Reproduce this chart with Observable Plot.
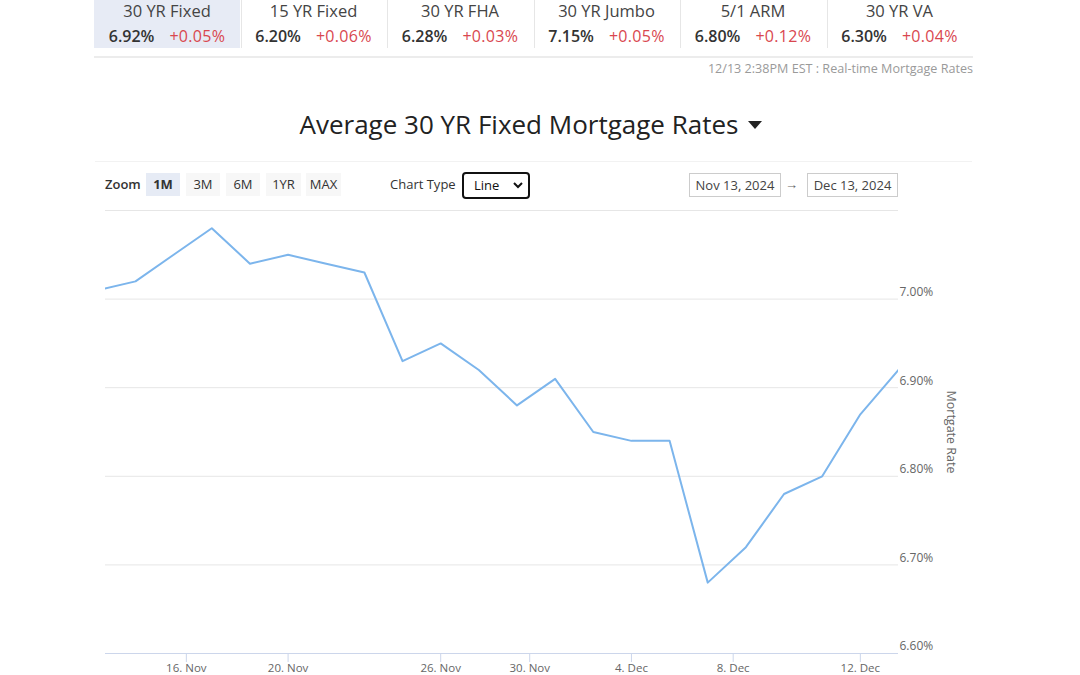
<!DOCTYPE html>
<html>
<head>
<meta charset="utf-8">
<script src="https://cdn.jsdelivr.net/npm/d3@7"></script>
<script src="https://cdn.jsdelivr.net/npm/@observablehq/plot@0.6"></script>
<style>
  html, body { margin: 0; padding: 0; background: #fff; }
  body { width: 1080px; height: 675px; position: relative; overflow: hidden; font-family: "Open Sans", "Noto Sans", sans-serif; color: #333; }
  .abs { position: absolute; }
  .tab { position: absolute; top: 0; height: 48px; width: 146px; }
  .tab.sel { background: #e7ebf5; }
  .tabname { position: absolute; top: 0; left: 0; right: 0; text-align: center; font-size: 16.5px; color: #444; line-height: 22px; white-space: nowrap; }
  .tabvals { position: absolute; top: 25px; left: 0; right: 0; text-align: center; font-size: 16px; line-height: 22px; white-space: nowrap; }
  .tabvals .v { font-weight: 600; color: #333; margin-right: 15px; }
  .tabvals .c { color: #d9474f; letter-spacing: 0.3px; }
  .divider { position: absolute; top: 0; width: 1px; height: 48px; background: #e6e6e6; }
  .btn { position: absolute; top: 173px; height: 23px; line-height: 23px; font-size: 13px; text-align: center; background: #f7f7f7; color: #333; }
  .btn.sel { background: #e6ebf5; font-weight: 700; }
  .datebox { position: absolute; top: 173px; height: 22px; line-height: 22px; border: 1px solid #ccc; font-size: 13px; color: #444; text-align: center; }
</style>
</head>
<body>
<div id="tabs"></div>
<div class="abs" style="left:94px; top:56px; width:879px; height:2px; background:#ececec;"></div>
<div class="abs" style="right:107px; top:60px; font-size:12.6px; color:#9a9a9a; line-height:18px;">12/13 2:38PM EST : Real-time Mortgage Rates</div>

<div class="abs" style="left:0; width:1062px; top:105px; text-align:center; font-size:26px; line-height:38px; color:#222; font-weight:500;">Average 30 YR Fixed Mortgage Rates<span style="display:inline-block; width:0; height:0; border-left:7px solid transparent; border-right:7px solid transparent; border-top:8px solid #222; margin-left:10px; vertical-align:5px;"></span></div>

<div class="abs" style="left:95px; top:161px; width:877px; height:1px; background:#f2f2f2;"></div>

<div class="abs" style="left:105px; top:173px; line-height:23px; font-size:13px; font-weight:600; color:#333;">Zoom</div>
<div id="buttons"></div>
<div class="abs" style="left:390px; top:173px; line-height:23px; font-size:13px; color:#333;">Chart Type</div>
<div class="abs" style="left:462px; top:172px; width:64px; height:23px; border:2px solid #111; border-radius:4px; font-size:13px; line-height:23px; color:#111;">
  <span style="position:absolute; left:10px;">Line</span>
  <svg style="position:absolute; right:5px; top:8px;" width="10" height="7" viewBox="0 0 10 7"><path d="M1 1 L5 5 L9 1" fill="none" stroke="#111" stroke-width="2"/></svg>
</div>
<div class="datebox" style="left:689px; width:90px;">Nov 13, 2024</div>
<div class="abs" style="left:785px; top:173px; line-height:22px; font-size:13px; color:#666;">→</div>
<div class="datebox" style="left:807px; width:89px;">Dec 13, 2024</div>

<div id="chart" class="abs" style="left:0; top:200px;"></div>

<script>
// ---- Header data ----
const products = ["30 YR Fixed", "15 YR Fixed", "30 YR FHA", "30 YR Jumbo", "5/1 ARM", "30 YR VA"];
const productRates = ["6.92%", "6.20%", "6.28%", "7.15%", "6.80%", "6.30%"];
const productChanges = ["+0.05%", "+0.06%", "+0.03%", "+0.05%", "+0.12%", "+0.04%"];
const zoomButtons = ["1M", "3M", "6M", "1YR", "MAX"];

// ---- Chart data (business days, ordinal axis) ----
const dates = ["2024-11-13", "2024-11-14", "2024-11-15", "2024-11-18", "2024-11-19", "2024-11-20",
  "2024-11-21", "2024-11-22", "2024-11-25", "2024-11-26", "2024-11-27", "2024-11-29",
  "2024-12-02", "2024-12-03", "2024-12-04", "2024-12-05", "2024-12-06", "2024-12-09",
  "2024-12-10", "2024-12-11", "2024-12-12", "2024-12-13"];
const rates = [7.01, 7.02, 7.05, 7.08, 7.04, 7.05, 7.04, 7.03, 6.93, 6.95, 6.92, 6.88,
  6.91, 6.85, 6.84, 6.84, 6.68, 6.72, 6.78, 6.80, 6.87, 6.92];
const tickDates = ["2024-11-16", "2024-11-20", "2024-11-26", "2024-11-30", "2024-12-04", "2024-12-08", "2024-12-12"];
const yTicks = [6.6, 6.7, 6.8, 6.9, 7.0];
const yGrid = [6.7, 6.8, 6.9, 7.0, 7.1];

// header build
const tabsEl = document.getElementById("tabs");
products.forEach((p, i) => {
  const left = 94 + i * 146.5;
  const t = document.createElement("div");
  t.className = "tab" + (i === 0 ? " sel" : "");
  t.style.left = left + "px";
  t.innerHTML = `<div class="tabname">${p}</div><div class="tabvals"><span class="v">${productRates[i]}</span><span class="c">${productChanges[i]}</span></div>`;
  tabsEl.appendChild(t);
  if (i > 0) {
    const d = document.createElement("div");
    d.className = "divider";
    d.style.left = Math.round(left) + "px";
    tabsEl.appendChild(d);
  }
});
const btnEl = document.getElementById("buttons");
zoomButtons.forEach((b, i) => {
  const d = document.createElement("div");
  d.className = "btn" + (i === 0 ? " sel" : "");
  d.style.left = (146 + i * 40) + "px";
  d.style.width = (b.length > 2 ? 35 : 34) + "px";
  d.textContent = b;
  btnEl.appendChild(d);
});

// chart
const parse = d3.utcParse("%Y-%m-%d");
const dts = dates.map(parse);
const data = dts.map((d, i) => ({ i, date: d, rate: rates[i] }));
const fmt = d3.utcFormat("%-d. %b");
const tickPos = tickDates.map(s => {
  const t = parse(s);
  let j = 0;
  while (j < dts.length - 1 && dts[j + 1] <= t) j++;
  if (j >= dts.length - 1) return j;
  return j + (t - dts[j]) / (dts[j + 1] - dts[j]);
});
const labelMap = new Map(tickPos.map((p, k) => [p, fmt(parse(tickDates[k]))]));

const chart = Plot.plot({
  width: 1080,
  height: 475,
  marginLeft: 105,
  marginRight: 182,
  marginTop: 10,
  marginBottom: 22,
  style: { fontFamily: "'Open Sans', 'Noto Sans', sans-serif", fontSize: "12px", background: "transparent" },
  x: { domain: [0.214, 21], axis: null },
  y: { domain: [6.6, 7.1], axis: null },
  marks: [
    Plot.ruleY(yGrid, { stroke: "#e6e6e6", strokeWidth: 1 }),
    Plot.ruleY([6.6], { stroke: "#ccd6eb", strokeWidth: 1 }),
    Plot.axisX(tickPos, {
      anchor: "bottom",
      tickFormat: d => labelMap.get(d),
      tickSize: 9,
      tickPadding: 1,
      stroke: "#ccd6eb",
      strokeOpacity: 1,
      fill: "#666",
      fontSize: 11.5,
      label: null
    }),
    Plot.axisY(yTicks, {
      anchor: "right",
      tickSize: 0,
      tickPadding: 1,
      dy: -7,
      tickFormat: d => d.toFixed(2) + "%",
      fill: "#666",
      fontSize: 12,
      label: null
    }),
    Plot.text(["Mortgate Rate"], {
      frameAnchor: "right",
      textAnchor: "middle",
      dx: 52,
      rotate: 90,
      fill: "#666",
      fontSize: 12.5,
      text: d => d
    }),
    Plot.line(data, { x: "i", y: "rate", stroke: "#7cb5ec", strokeWidth: 2, clip: true })
  ]
});
document.getElementById("chart").appendChild(chart);
</script>
</body>
</html>
